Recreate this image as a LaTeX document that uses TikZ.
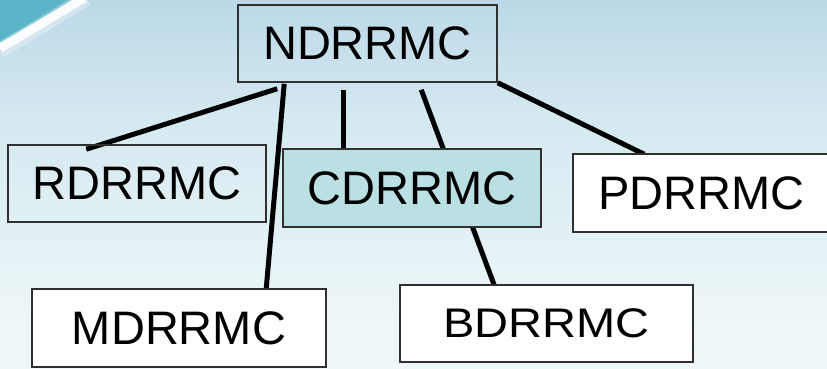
\documentclass[tikz,border=0pt]{standalone}
\usepackage{fontspec}
\setmainfont{Liberation Sans}
\usetikzlibrary{calc}
\definecolor{topblue}{HTML}{8FB6D6}
\definecolor{upblue}{HTML}{B3D2E5}
\definecolor{midblue}{HTML}{D4E9F0}
\definecolor{lowblue}{HTML}{EDF6F8}
\definecolor{lowwhite}{HTML}{F8FBFC}
\definecolor{teal1}{HTML}{58B4C6}
\definecolor{cfill}{HTML}{BBE0E3}
\definecolor{bordergray}{HTML}{303030}
\pgfdeclareverticalshading{bgshade}{100bp}{color(0bp)=(lowwhite); color(32bp)=(lowblue); color(59bp)=(midblue); color(81bp)=(upblue); color(100bp)=(topblue)}
\pgfdeclarelayer{bg}
\pgfdeclarelayer{lines}
\pgfsetlayers{bg,lines,main}
\tikzset{
  orgbox/.style={draw=bordergray, line width=1.5pt, inner sep=0pt,
    font=\fontsize{47}{50}\selectfont},
  link/.style={line width=5pt, black}
}
\begin{document}
\begin{tikzpicture}[x=1pt,y=-1pt]
\useasboundingbox (0,0) rectangle (827,369);
% nodes
\node[orgbox, minimum width=259pt, minimum height=77pt] (N) at (367.5,43.5) {NDRRMC};
\node[orgbox, minimum width=258pt, minimum height=77pt] (R) at (137,183.5) {RDRRMC};
\node[orgbox, fill=cfill, minimum width=258pt, minimum height=78pt] (C) at (412,188) {CDRRMC};
\node[orgbox, fill=white, minimum width=257pt, minimum height=78pt] (P) at (701.5,193) {PDRRMC};
\node[orgbox, fill=white, minimum width=294pt, minimum height=78pt] (M) at (179,328) {MDRRMC};
\node[orgbox, fill=white, minimum width=293pt, minimum height=77pt] (B) at (546.5,323.5) {\scalebox{1}[0.88]{BDRRMC}};
% background
\begin{pgfonlayer}{bg}
\shade[shading=bgshade] (0,0) rectangle (827,369);
\fill[teal1] (0,0) -- (80,0) .. controls (52,15) and (25,30) .. (0,44) -- cycle;
\draw[white, line width=16pt, opacity=0.3] (86,-2) .. controls (58,15) and (30,33) .. (0,50);
\draw[white, line width=9pt, opacity=0.95] (84,-2) .. controls (56,15) and (28,32) .. (0,48);
\end{pgfonlayer}
% connectors
\begin{pgfonlayer}{lines}
\draw[link] ($(N.south west)+(40,6)$) -- ($(R.north west)+(79,5)$);
\draw[link] ($(N.south west)+(47,1)$) -- ($(M.north west)+(235,0)$);
\draw[link] ($(N.south west)+(106,7)$) -- ($(C.north west)+(61,0)$);
\draw[link] ($(N.south west)+(184,7)$) -- ($(B.north west)+(95,1)$);
\draw[link] (N.south east) -- ($(P.north west)+(72,1)$);
\end{pgfonlayer}
\end{tikzpicture}
\end{document}
